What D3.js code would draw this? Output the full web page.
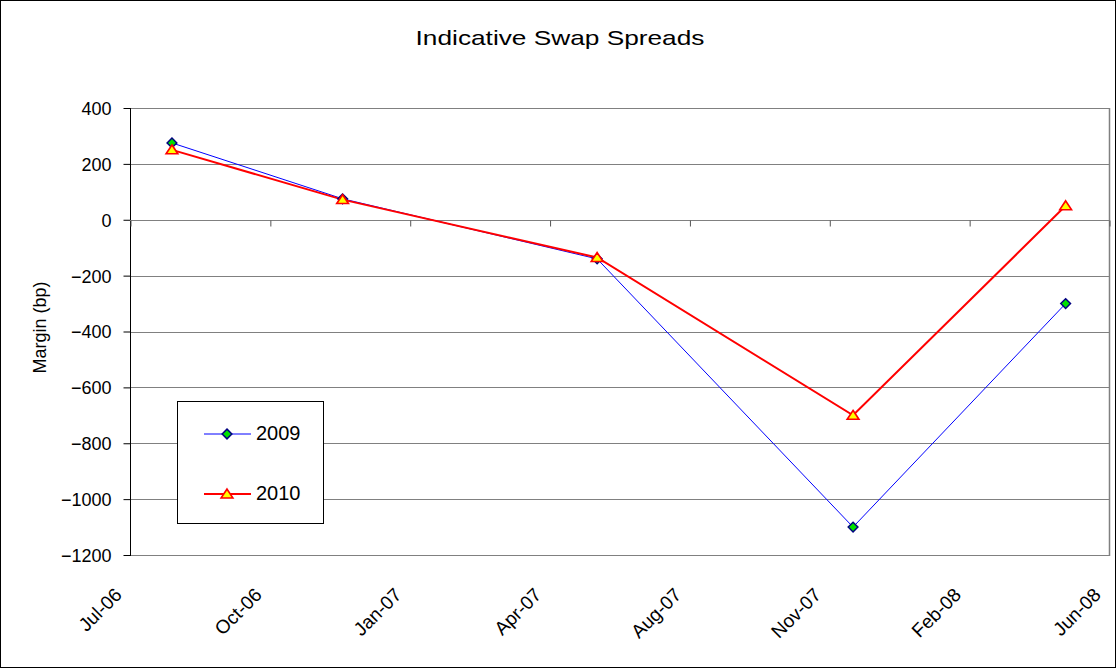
<!DOCTYPE html>
<html>
<head>
<meta charset="utf-8">
<script src="https://cdn.jsdelivr.net/npm/d3@7"></script>
<style>
  html, body { margin: 0; padding: 0; background: #fff; }
  svg { display: block; font-family: "Liberation Sans", Arial, sans-serif; }
</style>
</head>
<body>
<svg id="chart" width="1116" height="668"></svg>
<script>
// Observation dates and spreads (bp)
const dates = ["2006-08-01", "2006-12-01", "2007-06-01", "2007-12-01", "2008-05-01"];
const values2009 = [275, 75, -140, -1100, -300];
const values2010 = [250, 72, -135, -700, 50];
const seriesNames = ["2009", "2010"];

// Axis settings
const yTicks = [400, 200, 0, -200, -400, -600, -800, -1000, -1200];
const xTickLabels = ["Jul-06", "Oct-06", "Jan-07", "Apr-07", "Aug-07", "Nov-07", "Feb-08", "Jun-08"];
const xStart = "2006-07-02";
const xStepDays = 100;

const parse = d3.utcParse("%Y-%m-%d");
const svg = d3.select("#chart");
const W = 1116, H = 668;
const plot = { left: 130, right: 1109, top: 108, bottom: 555 };

// outer frame
svg.append("rect").attr("x", 0.5).attr("y", 0.5).attr("width", W - 1).attr("height", H - 1)
  .attr("fill", "#fff").attr("stroke", "#000").attr("stroke-width", 1);

const start = parse(xStart);
const tickDates = xTickLabels.map((_, i) => d3.utcDay.offset(start, i * xStepDays));
const x = d3.scaleUtc().domain([tickDates[0], tickDates[tickDates.length - 1]])
  .range([plot.left, plot.right]);
const y = d3.scaleLinear().domain([-1200, 400]).range([plot.bottom, plot.top]);

// title (slightly widened lettering)
svg.append("text").attr("transform", "translate(560,45) scale(1.25,1)").attr("text-anchor", "middle")
  .attr("font-size", 21).attr("fill", "#000").text("Indicative Swap Spreads");

// horizontal gridlines
svg.append("g").selectAll("line").data(yTicks).join("line")
  .attr("x1", plot.left).attr("x2", plot.right)
  .attr("y1", d => Math.round(y(d)) + 0.5).attr("y2", d => Math.round(y(d)) + 0.5)
  .attr("stroke", "#808080").attr("stroke-width", 1);

// right border of plot area
svg.append("line").attr("x1", plot.right + 0.5).attr("x2", plot.right + 0.5)
  .attr("y1", plot.top).attr("y2", plot.bottom + 1)
  .attr("stroke", "#808080").attr("stroke-width", 1.5);

// y axis
const yAxis = d3.axisLeft(y).tickValues(yTicks).tickSize(7).tickPadding(12).tickFormat(d3.format("d"));
const gy = svg.append("g").attr("transform", `translate(${plot.left + 0.5},0)`).call(yAxis);
gy.attr("font-size", null).attr("font-family", null);
gy.select(".domain").attr("stroke", "#000").attr("d", `M0,${plot.top}V${plot.bottom + 1}`);
gy.selectAll(".tick line").attr("stroke", "#000");
gy.selectAll(".tick text").style("font-size", "18px").attr("fill", "#000").attr("dy", "0.36em");

// y axis title
svg.append("text").attr("transform", `translate(46,${(plot.top + plot.bottom) / 2 - 4}) rotate(-90)`)
  .attr("text-anchor", "middle").style("font-size", "18px").attr("fill", "#000").text("Margin (bp)");

// x axis crossing at zero
const xAxis = d3.axisBottom(x).tickValues(tickDates).tickSize(6).tickFormat("");
const gx = svg.append("g").attr("transform", `translate(0,${Math.round(y(0)) + 0.5})`).call(xAxis);
gx.select(".domain").attr("stroke", "#808080").attr("d", `M${plot.left},0H${plot.right}`);
gx.selectAll(".tick line").attr("stroke", "#555").attr("transform", "translate(0.5,0)");

// rotated date labels below the plot
svg.append("g").selectAll("text").data(tickDates).join("text")
  .attr("transform", d => `translate(${x(d) - 7},${plot.bottom + 41}) rotate(-45)`)
  .attr("text-anchor", "end").style("font-size", "19px").attr("fill", "#000")
  .text((d, i) => xTickLabels[i]);

// series
const series = [
  { name: seriesNames[0], values: values2009, color: "#0000ff", width: 1, marker: "diamond" },
  { name: seriesNames[1], values: values2010, color: "#ff0000", width: 2, marker: "triangle" }
];
const line = d3.line().x(d => x(d[0])).y(d => y(d[1]));
const diamond = d3.symbol().type(d3.symbolDiamond2).size(60);
const triangle = d3.symbol().type(d3.symbolTriangle2).size(75);

function drawMarker(g, kind, cx, cy) {
  if (kind === "diamond") {
    g.append("path").attr("d", diamond()).attr("transform", `translate(${cx},${cy})`)
      .attr("fill", "#00e000").attr("stroke", "#000080").attr("stroke-width", 1.5);
  } else {
    g.append("path").attr("d", triangle()).attr("transform", `translate(${cx},${cy + 1}) scale(1.15,1)`)
      .attr("fill", "#ffff00").attr("stroke", "#ff0000").attr("stroke-width", 1.5);
  }
}

series.forEach(s => {
  const pts = dates.map((d, i) => [parse(d), s.values[i]]);
  svg.append("path").attr("d", line(pts)).attr("fill", "none")
    .attr("stroke", s.color).attr("stroke-width", s.width);
});
series.forEach(s => {
  const g = svg.append("g");
  dates.forEach((d, i) => drawMarker(g, s.marker, x(parse(d)), y(s.values[i])));
});

// legend
const lg = svg.append("g");
lg.append("rect").attr("x", 177.5).attr("y", 401.5).attr("width", 146).attr("height", 122)
  .attr("fill", "#fff").attr("stroke", "#000").attr("stroke-width", 1);
series.forEach((s, i) => {
  const ly = 434 + i * 60;
  lg.append("line").attr("x1", 204).attr("x2", 251).attr("y1", ly).attr("y2", ly)
    .attr("stroke", s.color).attr("stroke-width", s.width);
  drawMarker(lg, s.marker, 227, ly);
  lg.append("text").attr("x", 256).attr("y", ly + 6).style("font-size", "20px").attr("fill", "#000").text(s.name);
});
</script>
</body>
</html>
